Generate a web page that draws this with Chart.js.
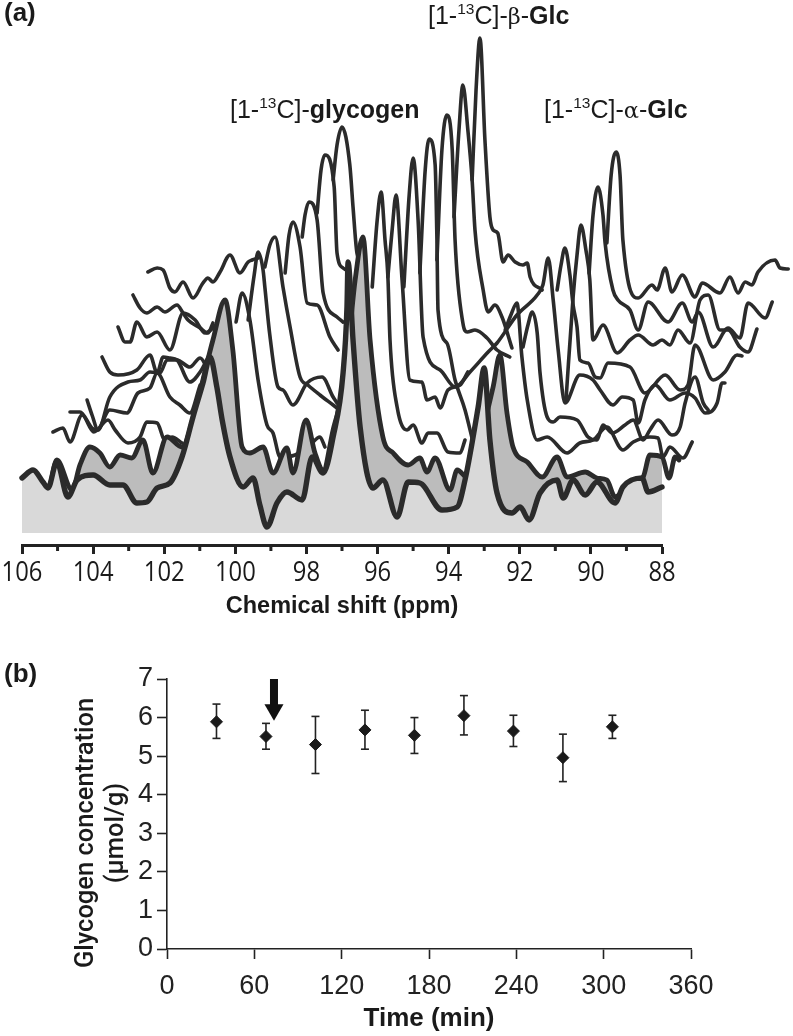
<!DOCTYPE html>
<html><head><meta charset="utf-8">
<script src="https://cdn.jsdelivr.net/npm/chart.js@4"></script>
<style>
html,body{margin:0;padding:0;background:#fff;width:793px;height:1036px;overflow:hidden}
canvas{position:absolute;left:0}
#ca{top:0}#cb{top:640px}
.t{position:absolute;font-family:"Liberation Sans",Arial,sans-serif;color:#1a1a1a;white-space:nowrap;line-height:1}
.t b{font-weight:bold}.t sup{font-size:.62em;line-height:0;vertical-align:.62em}
.t i{font-family:"DejaVu Serif",serif;font-style:normal;font-size:.9em}
</style></head><body>
<canvas id="ca"></canvas><canvas id="cb"></canvas>
<div class="t" style="left:4px;top:-1px;font-size:26px;font-weight:bold">(a)</div>
<div class="t" style="left:4px;top:660px;font-size:26px;font-weight:bold">(b)</div>
<div class="t" style="left:230px;top:97px;font-size:25px">[1-<sup>13</sup>C]-<b>glycogen</b></div>
<div class="t" style="left:428px;top:3px;font-size:25px">[1-<sup>13</sup>C]-<i>β</i>-<b>Glc</b></div>
<div class="t" style="left:544px;top:97px;font-size:25px">[1-<sup>13</sup>C]-<i>α</i>-<b>Glc</b></div>
<script>
const ppmTicks=[106,104,102,100,98,96,94,92,90,88];
const ppmMinor=[105,103,101,99,97,95,93,91,89];
/* Each stacked spectrum: position along the ppm axis and intensity; null = hidden behind the traces in front */
const trace0Ppm=[106.00,105.69,105.41,105.27,105.02,104.71,104.45,104.00,103.53,103.16,102.77,102.49,102.20,101.84,101.50,101.19,100.91,100.71,100.52,100.37,100.15,99.78,99.50,99.31,99.11,98.83,98.55,98.12,97.84,97.53,97.25,96.97,96.86,96.83,96.69,96.49,96.13,95.85,95.45,95.14,94.81,94.19,93.76,93.54,93.17,93.00,92.84,92.64,92.22,91.99,91.74,91.43,90.95,90.78,90.50,90.16,89.83,89.32,89.10,88.56,88.39,88.00];
const trace0Int=[55,63,51,45,71,36,53,58,48,48,30,31,45,50,76,116,150,176,146,113,76,46,55,28,6,30,41,33,76,60,96,160,226,271,193,106,45,53,16,51,50,23,26,53,126,165,93,40,20,26,13,40,53,35,53,38,51,30,46,55,41,46];
const trace1Ppm=[105.55,105.27,105.02,104.59,104.37,104.09,103.81,103.53,103.24,102.91,102.60,102.32,101.92,101.50,101.08,100.63,100.29,100.07,99.81,99.59,99.22,98.94,98.55,98.38,98.01,97.76,97.53,97.25,96.92,96.63,96.41,96.21,95.85,95.56,95.14,94.81,94.61,94.38,93.96,93.76,93.46,93.12,92.75,92.56,92.36,92.19,91.79,91.37,90.95,90.67,90.16,89.83,89.55,89.32,88.95,88.53,88.34,88.00,87.80,87.63,87.52];
const trace1Int=[55,43,73,43,68,86,80,66,78,75,93,60,96,86,130,193,233,183,86,80,86,60,85,60,113,80,63,103,153,253,296,193,96,80,68,75,61,75,43,63,55,93,146,178,120,86,71,56,76,56,61,55,53,36,48,56,78,76,55,76,73];
const trace2Ppm=[105.13,104.85,104.65,104.31,103.98,103.58,103.38,103.02,102.68,102.49,102.20,101.98,101.78,101.50,100.70,99.98,99.81,99.59,99.36,99.11,98.94,98.74,98.32,97.90,97.62,97.48,96.80,96.15,96.01,95.90,95.79,95.71,95.65,95.45,95.17,95.00,94.75,94.58,94.33,94.02,93.68,93.54,93.00,92.41,92.25,92.08,91.94,91.79,91.51,91.23,90.67,90.31,89.94,89.55,89.10,88.81,88.34,88.11,87.97,87.78,87.41,87.15];
const trace2Int=[101,105,91,118,101,113,103,90,96,111,110,93,96,90,null,211,240,213,153,108,100,76,78,88,96,86,null,246,313,341,293,257,193,126,103,108,90,100,100,81,80,93,null,203,218,230,176,133,93,96,80,90,93,106,83,91,96,95,76,86,75,91];
const trace3Ppm=[104.65,104.37,104.03,103.89,103.53,103.05,102.74,102.40,102.20,101.84,101.56,101.28,100.99,100.30,99.64,99.47,99.36,99.22,99.17,99.03,98.80,98.66,98.38,97.98,97.56,97.25,97.14,96.40,95.71,95.59,95.48,95.31,95.09,94.75,94.61,94.38,94.24,94.02,93.68,93.46,92.60,91.91,91.77,91.65,91.51,91.43,91.23,91.06,90.87,90.39,90.08,89.83,89.66,89.40,89.04,88.81,88.53,88.34,88.11,87.72,87.49,87.35,87.07,86.84,86.70];
const trace3Int=[121,121,105,103,123,120,140,145,160,136,128,120,148,null,213,258,281,263,246,198,146,143,128,150,156,136,130,null,256,303,338,253,153,151,133,136,125,143,148,161,null,186,208,221,200,160,116,111,116,113,96,93,108,100,108,113,93,103,113,98,106,130,156,130,123];
const trace4Ppm=[104.17,104.03,103.86,103.53,103.02,102.68,102.40,102.12,101.92,101.64,101.28,100.99,100.80,100.00,99.17,99.03,98.88,98.66,98.46,98.18,97.96,97.62,97.25,97.14,96.20,95.26,95.11,95.00,94.86,94.72,94.24,93.82,93.40,92.89,92.64,92.08,91.51,91.35,91.20,91.06,90.92,90.73,90.31,89.94,89.74,89.38,89.12,88.81,88.67,88.48,88.19,87.78,87.35,87.07,86.79,86.45,86.31,86.23];
const trace4Int=[133,118,103,136,151,153,161,160,173,173,166,175,166,null,266,288,296,246,206,156,148,138,128,125,null,246,338,375,313,196,163,146,161,181,190,218,238,248,275,233,183,130,158,153,143,128,136,133,110,133,148,133,140,135,120,130,150,150];
const trace5Ppm=[103.75,103.53,103.30,102.77,102.40,102.20,102.03,101.84,101.64,101.28,100.99,100.71,99.60,98.60,98.49,98.38,98.18,97.98,97.70,97.34,97.11,96.00,94.81,94.66,94.55,94.38,94.33,94.30,94.05,93.82,93.54,93.31,92.10,90.95,90.84,90.73,90.59,90.50,90.39,90.31,90.08,89.88,89.74,89.52,88.90,88.48,87.91,87.49,87.27,87.07,86.56,86.23,85.89,85.75];
const trace5Int=[176,161,158,163,178,160,176,175,173,151,161,180,null,260,298,311,286,230,228,196,183,null,260,363,394,368,293,223,190,153,123,90,null,243,268,285,258,228,206,173,170,156,155,170,166,140,158,143,148,188,153,161,178,177];
const trace6Ppm=[103.30,103.10,102.96,102.77,102.49,102.20,101.84,101.47,101.13,100.85,100.63,100.37,99.20,98.12,98.04,97.93,97.70,97.53,97.14,96.97,95.60,94.33,94.19,94.05,93.90,93.82,93.60,93.48,93.26,92.92,92.64,92.28,91.40,90.70,90.50,90.39,90.28,90.14,90.03,89.94,89.66,89.26,88.90,88.67,88.25,88.00,87.78,87.55,87.21,86.93,86.70,86.37,86.14,85.81,85.58,85.33];
const trace6Int=[206,191,191,211,196,201,183,220,213,200,205,215,null,296,318,331,313,240,216,211,null,273,383,418,383,293,210,201,203,195,183,176,null,133,236,278,308,283,253,193,208,180,193,198,188,193,188,203,190,233,238,203,203,186,181,204];
const trace7Ppm=[102.88,102.68,102.49,102.20,101.98,101.64,101.47,101.33,100.99,100.77,100.63,99.20,97.70,97.59,97.48,97.22,97.14,96.97,96.78,95.30,93.85,93.71,93.60,93.46,93.34,93.26,93.03,92.89,92.70,92.50,92.22,91.10,90.05,89.94,89.80,89.66,89.60,89.38,89.24,88.90,88.67,88.39,87.83,87.43,87.15,86.98,86.56,86.14,85.81,85.58,85.10,84.90];
const trace7Int=[238,225,220,226,221,228,220,213,205,200,210,null,320,363,378,346,280,265,261,null,316,403,448,403,353,303,243,221,228,216,185,null,260,318,346,318,290,243,233,223,203,231,211,230,211,221,186,205,195,230,215,231];
const trace8Ppm=[102.46,102.20,102.03,101.84,101.70,101.47,101.19,100.91,100.77,100.63,100.43,100.15,99.87,99.64,99.53,99.36,98.30,97.25,97.14,97.00,96.78,96.69,96.58,96.46,94.90,93.34,93.23,93.12,92.98,92.84,92.75,92.62,92.47,92.33,92.13,91.91,91.79,91.71,91.37,90.45,89.55,89.43,89.29,89.18,89.10,88.67,88.28,88.14,87.91,87.72,87.43,87.07,86.87,86.37,86.09,85.86,85.66,85.47,85.30,84.82,84.68,84.45];
const trace8Int=[261,265,263,245,241,251,235,250,255,251,261,278,260,271,273,275,null,353,388,406,368,326,280,271,null,353,443,495,393,316,303,300,271,278,271,268,270,256,243,null,290,358,381,358,293,235,248,243,265,241,258,236,250,240,256,240,251,248,261,273,265,264];

const timeMin=[34,68,102,136,170,204,238,272,306];
const glycogen=[5.89,5.51,5.30,5.68,5.54,6.05,5.65,4.96,5.76];
const errLow=[5.46,5.18,4.55,5.18,5.07,5.55,5.25,4.34,5.46];
const errHigh=[6.35,5.85,6.03,6.19,6.00,6.57,6.06,5.57,6.06];
const infusionTime=73.5;
const arrowShaft=[7,6.15];
const arrowTip=6.2;

const INK='#2b2b2b';
const traces=[[trace0Ppm,trace0Int],[trace1Ppm,trace1Int],[trace2Ppm,trace2Int],[trace3Ppm,trace3Int],[trace4Ppm,trace4Int],[trace5Ppm,trace5Int],[trace6Ppm,trace6Int],[trace7Ppm,trace7Int],[trace8Ppm,trace8Int]];
const specSets=traces.map(([p,v],i)=>{
  const d={type:'line',data:p.map((x,k)=>({x,y:v[k]})),borderColor:INK,borderWidth:i==0?5.4:i==1?4.8:3.6,
    pointRadius:0,cubicInterpolationMode:'monotone',spanGaps:false,borderJoinStyle:'round',borderCapStyle:'round',clip:false,fill:false};
  if(i==0){d.fill={value:0};d.backgroundColor='#d9d9d9';}
  if(i==1){d.fill={target:0,above:'#bcbcbc',below:'rgba(0,0,0,0)'};}
  return d;
});
const ppmAxisExtras={id:'ppmAxisExtras',afterDraw(c){
  const s=c.scales.x,g=c.ctx;g.save();g.strokeStyle='#222';g.lineWidth=3;
  ppmMinor.forEach(v=>{const x=s.getPixelForValue(v);g.beginPath();g.moveTo(x,s.top);g.lineTo(x,s.top+6);g.stroke();});
  g.fillStyle='#1a1a1a';g.font='28px "Open Sans"';g.textAlign='center';g.textBaseline='middle';
  ppmTicks.forEach(v=>{g.save();g.translate(s.getPixelForValue(v),s.top+28);g.scale(.85,1);g.fillText(String(v),0,0);g.restore();});
  g.restore();}};

function size(id,h){const e=document.getElementById(id);e.width=793;e.height=h;e.style.width='793px';e.style.height=h+'px';return e;}
Chart.defaults.animation=false;Chart.defaults.responsive=false;Chart.defaults.devicePixelRatio=1;

new Chart(size('ca',621),{type:'line',data:{datasets:specSets},plugins:[ppmAxisExtras],options:{
  layout:{padding:{left:22,right:131,top:0,bottom:0}},
  plugins:{legend:{display:false},tooltip:{enabled:false}},
  scales:{
   x:{type:'linear',reverse:true,min:88,max:106,afterFit(s){s.height=76;},
      grid:{drawOnChartArea:false,color:'#222',tickLength:9,tickWidth:c=>c.tick.value%2==0?3:0,tickColor:'#222'},
      border:{color:'#222',width:3},
      afterBuildTicks(s){s.ticks=ppmTicks.slice().reverse().map(value=>({value}));},
      ticks:{autoSkip:false,maxRotation:0,padding:3,color:'#1a1a1a',font:{size:12},callback:()=>''},
      title:{display:true,text:'Chemical shift (ppm)',color:'#1a1a1a',padding:{top:0,bottom:0},font:{family:'"Liberation Sans"',weight:'bold',size:23.5}}},
   y:{display:false,min:-12,max:533}
  }}});

const errData=[];timeMin.forEach((t,i)=>{errData.push({x:t,y:errLow[i]},{x:t,y:errHigh[i]},{x:t,y:null});});
const pad='\u00a0\u00a0\u00a0\u00a0\u00a0\u00a0';
new Chart(size('cb',394),{type:'line',data:{datasets:[
  {data:timeMin.map((t,i)=>({x:t,y:glycogen[i]})),showLine:false,pointStyle:'rectRot',pointRadius:6,backgroundColor:'#1a1a1a',borderColor:'#1a1a1a',pointBorderWidth:1},
  {data:errData,borderColor:'#222',borderWidth:1.6,pointStyle:'line',pointRadius:4,pointBorderColor:'#222',pointBorderWidth:1.6,spanGaps:false},
  {data:arrowShaft.map(y=>({x:infusionTime,y})),borderColor:'#111',borderWidth:8,pointRadius:0,clip:false},
  {data:[{x:infusionTime,y:arrowTip}],showLine:false,pointStyle:'triangle',rotation:180,pointRadius:11,backgroundColor:'#111',borderColor:'#111',pointBorderWidth:0}
 ]},options:{
  layout:{padding:{left:72,right:102,top:39,bottom:0}},
  plugins:{legend:{display:false},tooltip:{enabled:false}},
  scales:{
   x:{type:'linear',min:0,max:360,afterFit(s){s.height=85;},
      grid:{drawOnChartArea:false,tickLength:10,tickColor:'#222',tickWidth:1.6},border:{color:'#222',width:1.6},
      ticks:{stepSize:60,autoSkip:false,maxRotation:0,padding:11,color:'#222',font:{family:'"Liberation Sans"',size:27}},
      title:{display:true,text:'Time (min)',color:'#1a1a1a',padding:{top:0,bottom:0},font:{family:'"Liberation Sans"',weight:'bold',size:26}}},
   y:{type:'linear',min:0,max:7,afterFit(s){s.width=95;},
      grid:{drawOnChartArea:false,tickLength:10,tickColor:'#222',tickWidth:1.6},border:{color:'#222',width:1.6},
      ticks:{stepSize:1,padding:4,color:'#222',font:{family:'"Liberation Sans"',size:27}},
      title:{display:true,text:['Glycogen concentration'+pad,'(µmol/g)'+pad],color:'#1a1a1a',padding:{top:0,bottom:0},font:{family:'Roboto',weight:'500',size:25.5,lineHeight:1.17}}}
  }}});
</script></body></html>
